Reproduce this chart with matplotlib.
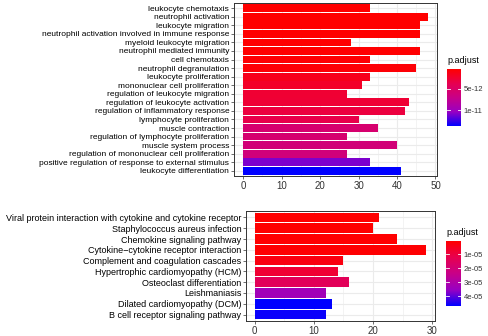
import numpy as np
import matplotlib
matplotlib.use('Agg')
import matplotlib.pyplot as plt
from matplotlib.colors import LinearSegmentedColormap, Normalize
from matplotlib.cm import ScalarMappable

plt.rcParams['font.family'] = ['Liberation Sans', 'DejaVu Sans']

# GO terms (top panel), listed top to bottom
go_terms = [
    'leukocyte chemotaxis', 'neutrophil activation', 'leukocyte migration',
    'neutrophil activation involved in immune response', 'myeloid leukocyte migration',
    'neutrophil mediated immunity', 'cell chemotaxis', 'neutrophil degranulation',
    'leukocyte proliferation', 'mononuclear cell proliferation',
    'regulation of leukocyte migration', 'regulation of leukocyte activation',
    'regulation of inflammatory response', 'lymphocyte proliferation',
    'muscle contraction', 'regulation of lymphocyte proliferation',
    'muscle system process', 'regulation of mononuclear cell proliferation',
    'positive regulation of response to external stimulus', 'leukocyte differentiation',
]
go_counts = [33, 48, 46, 46, 28, 46, 33, 45, 33, 31, 27, 43, 42, 30, 35, 27, 40, 27, 33, 41]
go_padj = [3e-13, 3e-13, 3e-13, 3e-13, 4e-13, 4e-13, 5e-13, 6e-13, 1.5e-12, 2e-12,
           2.5e-12, 2.6e-12, 3e-12, 3.5e-12, 5.5e-12, 5.6e-12, 6e-12, 6.2e-12,
           1.1e-11, 1.375e-11]

# KEGG pathways (bottom panel)
kegg_terms = [
    'Viral protein interaction with cytokine and cytokine receptor',
    'Staphylococcus aureus infection', 'Chemokine signaling pathway',
    'Cytokine\u2212cytokine receptor interaction', 'Complement and coagulation cascades',
    'Hypertrophic cardiomyopathy (HCM)', 'Osteoclast differentiation',
    'Leishmaniasis', 'Dilated cardiomyopathy (DCM)', 'B cell receptor signaling pathway',
]
kegg_counts = [21, 20, 24, 29, 15, 14, 16, 12, 13, 12]
kegg_padj = [5e-7, 6e-7, 8e-7, 1e-6, 3e-6, 8e-6, 1.4e-5, 3.3e-5, 4.69e-5, 4.6e-5]

# red -> blue, roughly ggplot's Lab interpolation
cmap = LinearSegmentedColormap.from_list(
    'rb', ['#FF0000', '#E7004F', '#C80088', '#9900C2', '#0000FF'])

W, H = 488, 336
fig = plt.figure(figsize=(W / 100, H / 100), dpi=100)


def px_axes(l, t, r, b):
    return fig.add_axes([l / W, 1 - b / H, (r - l) / W, (b - t) / H])


def draw_panel(ax, terms, counts, padj, xmax, xticks, fs):
    n = len(terms)
    norm = Normalize(min(padj), max(padj))
    ypos = np.arange(n)[::-1]
    ax.set_facecolor('white')
    for x in np.arange(0, xmax + 1, 5):
        lw = 0.8 if x % 10 == 0 else 0.4
        ax.axvline(x, color='#EBEBEB', lw=lw, zorder=0)
    for y in ypos:
        ax.axhline(y, color='#EBEBEB', lw=0.8, zorder=0)
    ax.barh(ypos, counts, height=0.9, color=cmap(norm(padj)), zorder=2)
    rng = max(counts)
    ax.set_xlim(-0.05 * rng, rng * 1.05)
    ax.set_ylim(-0.6, n - 0.4)
    ax.set_yticks(ypos)
    ax.set_yticklabels(terms, fontsize=fs, color='black')
    ax.set_xticks(xticks)
    ax.set_xticklabels([str(v) for v in xticks], fontsize=7, color='#333333')
    ax.tick_params(length=2, width=0.5, color='#333333', pad=1.5)
    for s in ax.spines.values():
        s.set_color('#333333')
        s.set_linewidth(0.7)
    return norm


def draw_cbar(cax, norm, ticks, labels):
    sm = ScalarMappable(norm=norm, cmap=cmap)
    cb = fig.colorbar(sm, cax=cax)
    cb.outline.set_visible(False)
    cax.invert_yaxis()
    cb.set_ticks(ticks)
    cb.set_ticklabels(labels)
    cax.tick_params(length=0, labelsize=5.5, colors='#333333', pad=2)
    for t in ticks:
        cax.plot([0, 0.2], [t, t], color='white', lw=0.6, transform=cax.get_yaxis_transform())
        cax.plot([0.8, 1], [t, t], color='white', lw=0.6, transform=cax.get_yaxis_transform())
    cax.set_title('p.adjust', fontsize=6.5, loc='left', pad=4, color='black')


ax1 = px_axes(234, 3, 437, 176)
n1 = draw_panel(ax1, go_terms, go_counts, go_padj, 50, [0, 10, 20, 30, 40, 50], 6)
cax1 = px_axes(447, 69, 461, 126)
draw_cbar(cax1, n1, [5e-12, 1e-11], ['5e-12', '1e-11'])

ax2 = px_axes(246, 211, 435, 321)
n2 = draw_panel(ax2, kegg_terms, kegg_counts, kegg_padj, 30, [0, 10, 20, 30], 6.5)
cax2 = px_axes(446, 241, 461, 306)
draw_cbar(cax2, n2, [1e-5, 2e-5, 3e-5, 4e-5], ['1e-05', '2e-05', '3e-05', '4e-05'])

fig.savefig('out.png', dpi=100)
